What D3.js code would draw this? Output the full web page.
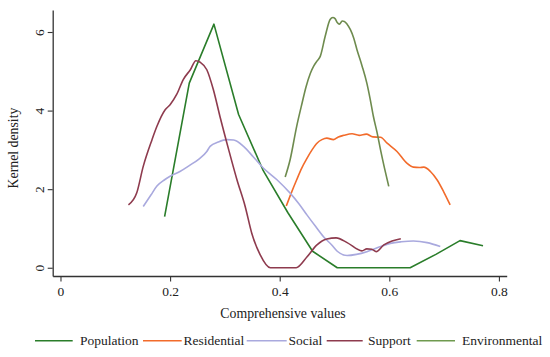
<!DOCTYPE html>
<html>
<head>
<meta charset="utf-8">
<script src="https://cdn.jsdelivr.net/npm/d3@7"></script>
<style>
  body { margin: 0; background: #fff; }
  svg { display: block; font-family: "Liberation Serif", "Times New Roman", serif; }
</style>
</head>
<body>
<div id="chart"></div>
<script>
// Series names and colours
const seriesNames = ["Population", "Residential", "Social", "Support", "Environmental"];
const seriesColors = ["#2a7d2a", "#f26b2b", "#a9a9de", "#8e3b4e", "#6e8b4e"];
const legendColors = ["#2a7d2a", "#f26b2b", "#a9a9de", "#8e3b4e", "#6f9a4f"];

// Population (piecewise linear)
const popX = [0.19, 0.235, 0.28, 0.325, 0.37, 0.415, 0.46, 0.505, 0.55, 0.595, 0.638, 0.685, 0.729, 0.771];
const popY = [1.3, 4.7, 6.2, 3.9, 2.47, 1.4, 0.42, 0, 0, 0, 0, 0.34, 0.69, 0.56];

// Residential
const resX = [0.412, 0.421, 0.431, 0.44, 0.45, 0.459, 0.468, 0.477, 0.486, 0.498, 0.507, 0.517, 0.532, 0.545, 0.558, 0.57, 0.584, 0.596, 0.614, 0.632, 0.644, 0.655, 0.663, 0.675, 0.687, 0.699, 0.711];
const resY = [1.57, 1.9, 2.24, 2.53, 2.79, 3.0, 3.17, 3.26, 3.30, 3.26, 3.33, 3.37, 3.41, 3.37, 3.40, 3.33, 3.32, 3.17, 2.96, 2.66, 2.56, 2.55, 2.56, 2.45, 2.24, 1.94, 1.6];

// Social
const socX = [0.151, 0.165, 0.176, 0.19, 0.2, 0.218, 0.235, 0.252, 0.267, 0.273, 0.288, 0.304, 0.316, 0.334, 0.352, 0.37, 0.395, 0.419, 0.435, 0.45, 0.465, 0.48, 0.495, 0.505, 0.523, 0.54, 0.559, 0.578, 0.602, 0.622, 0.644, 0.669, 0.693];
const socY = [1.56, 1.85, 2.08, 2.24, 2.33, 2.45, 2.6, 2.76, 2.96, 3.09, 3.2, 3.26, 3.25, 3.09, 2.82, 2.54, 2.24, 1.9, 1.63, 1.34, 1.06, 0.79, 0.58, 0.42, 0.31, 0.34, 0.41, 0.51, 0.62, 0.66, 0.68, 0.64, 0.54];

// Support
const supX = [0.124, 0.139, 0.151, 0.167, 0.176, 0.191, 0.2, 0.212, 0.224, 0.237, 0.247, 0.255, 0.267, 0.279, 0.291, 0.307, 0.322, 0.337, 0.349, 0.364, 0.383, 0.43, 0.45, 0.468, 0.486, 0.503, 0.523, 0.55, 0.559, 0.568, 0.576, 0.59, 0.605, 0.621];
const supY = [1.6, 1.9, 2.58, 3.26, 3.6, 4.02, 4.15, 4.41, 4.79, 5.04, 5.27, 5.23, 5.04, 4.53, 3.85, 3.0, 2.24, 1.56, 0.88, 0.34, 0, 0, 0.28, 0.58, 0.73, 0.76, 0.64, 0.43, 0.48, 0.47, 0.41, 0.58, 0.68, 0.74];

// Environmental
const envX = [0.41, 0.419, 0.431, 0.441, 0.448, 0.456, 0.462, 0.468, 0.474, 0.483, 0.492, 0.497, 0.501, 0.505, 0.509, 0.514, 0.518, 0.523, 0.529, 0.535, 0.541, 0.55, 0.559, 0.565, 0.571, 0.578, 0.584, 0.591, 0.599];
const envY = [2.31, 2.75, 3.6, 4.2, 4.6, 4.95, 5.13, 5.26, 5.38, 5.89, 6.32, 6.37, 6.34, 6.24, 6.2, 6.28, 6.27, 6.2, 6.06, 5.85, 5.55, 5.15, 4.7, 4.3, 3.85, 3.42, 3.0, 2.55, 2.07];

// Axis ticks
const xTicks = [0, 0.2, 0.4, 0.6, 0.8];
const yTicks = [0, 2, 4, 6];

const seriesX = [popX, resX, socX, supX, envX];
const seriesY = [popY, resY, socY, supY, envY];
const curves = [d3.curveLinear, d3.curveMonotoneX, d3.curveMonotoneX, d3.curveMonotoneX, d3.curveMonotoneX];

const width = 550, height = 357;
const plotLeft = 52.7, plotRight = 506.7, plotTop = 10, plotBottom = 276;

const svg = d3.select("#chart").append("svg")
    .attr("width", width)
    .attr("height", height);

const x = d3.scaleLinear().domain([-0.0142, 0.8142]).range([plotLeft, plotRight]);
const y = d3.scaleLinear().domain([-0.21, 6.56]).range([plotBottom, plotTop]);

// X axis
const xAxis = svg.append("g")
    .attr("transform", `translate(0,${plotBottom})`)
    .call(d3.axisBottom(x).tickValues(xTicks).tickSize(5.5).tickSizeOuter(0).tickPadding(5).tickFormat(d3.format("")));

// Y axis
const yAxis = svg.append("g")
    .attr("transform", `translate(${plotLeft},0)`)
    .call(d3.axisLeft(y).tickValues(yTicks).tickSize(5).tickSizeOuter(0).tickFormat(d3.format("d")));

[xAxis, yAxis].forEach(g => {
    g.selectAll("path.domain").attr("stroke", "#333").attr("stroke-width", 1.3);
    g.selectAll(".tick line").attr("stroke", "#333").attr("stroke-width", 1.1);
    g.selectAll("text").attr("fill", "#222").style("font-size", "13.5px").style("font-family", "Liberation Serif, serif");
});

// rotate y tick labels like Stata does
yAxis.selectAll(".tick text")
    .attr("x", 0)
    .attr("y", 0)
    .attr("dy", 0)
    .attr("transform", "translate(-9.2,0) rotate(-90)")
    .attr("text-anchor", "middle");

// Axis titles
svg.append("text")
    .attr("x", 283)
    .attr("y", 318)
    .attr("text-anchor", "middle")
    .style("font-size", "13.8px")
    .attr("fill", "#222")
    .text("Comprehensive values");

svg.append("text")
    .attr("transform", "translate(18,148) rotate(-90)")
    .attr("text-anchor", "middle")
    .style("font-size", "13.8px")
    .attr("fill", "#222")
    .text("Kernel density");

// Density lines
seriesNames.forEach((name, i) => {
    const pts = seriesX[i].map((v, j) => [v, seriesY[i][j]]);
    const line = d3.line()
        .x(d => x(d[0]))
        .y(d => y(d[1]))
        .curve(curves[i]);
    svg.append("path")
        .datum(pts)
        .attr("fill", "none")
        .attr("stroke", seriesColors[i])
        .attr("stroke-width", 1.6)
        .attr("stroke-linejoin", "round")
        .attr("d", line);
});

// Legend
const legendKeyX = [35, 143, 246.7, 326.7, 416.7];
const legendKeyW = [37.7, 38.7, 40, 36, 38.3];
const legendTextX = [80, 183.5, 288.5, 368, 462];
const legendY = 340.7;

seriesNames.forEach((name, i) => {
    svg.append("line")
        .attr("x1", legendKeyX[i])
        .attr("x2", legendKeyX[i] + legendKeyW[i])
        .attr("y1", legendY)
        .attr("y2", legendY)
        .attr("stroke", legendColors[i])
        .attr("stroke-width", 1.6);
    svg.append("text")
        .attr("x", legendTextX[i])
        .attr("y", 345)
        .style("font-size", "13.5px")
        .attr("fill", "#222")
        .text(name);
});
</script>
</body>
</html>
